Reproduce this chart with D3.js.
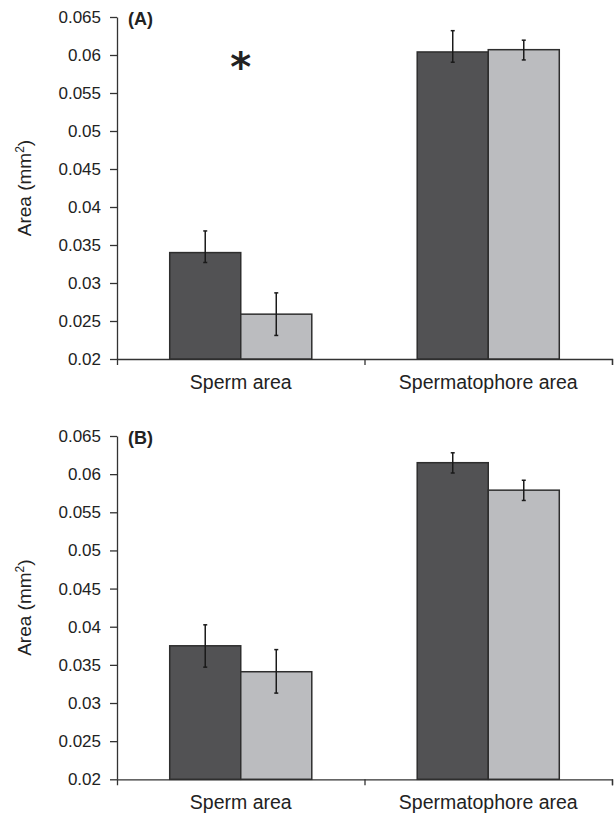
<!DOCTYPE html>
<html>
<head>
<meta charset="utf-8">
<script src="https://cdn.jsdelivr.net/npm/d3@7"></script>
<style>
  body { margin: 0; background: #fff; }
  text { font-family: "Liberation Sans", Arial, sans-serif; fill: #222; }
</style>
</head>
<body>
<div class="chart"></div>
<script>
// categories along the x axis
var categories = ["Sperm area", "Spermatophore area"];

// y axis ticks (same for both panels)
var yTicks = [0.02, 0.025, 0.03, 0.035, 0.04, 0.045, 0.05, 0.055, 0.06, 0.065];

// panel (A) values, dark and light bars
var darkA = [0.0340, 0.0604];
var lightA = [0.0259, 0.0607];
// error bars above / below the bar top
var darkUpA = [0.00285, 0.0028];
var darkDownA = [0.0013, 0.00135];
var lightUpA = [0.0028, 0.00125];
var lightDownA = [0.0028, 0.00135];

// panel (B) values
var darkB = [0.0375, 0.0615];
var lightB = [0.0341, 0.0579];
var darkUpB = [0.00275, 0.0013];
var darkDownB = [0.0028, 0.00135];
var lightUpB = [0.0029, 0.0013];
var lightDownB = [0.0028, 0.00135];

var width = 614,
    height = 813,
    left = 117,
    right = 612;

var svg = d3.select('.chart').append('svg').attr('width', width).attr('height', height);

function panel(top, bottom, tag, dark, light, darkUp, darkDown, lightUp, lightDown, star) {
  var g = svg.append('g');

  var yScale = d3.scaleLinear().domain([0.02, 0.065]).range([bottom, top]);

  // band for each category, the two bars fill the band
  var xScale = d3.scaleBand().domain(categories).range([left, right])
    .paddingInner(0.426).paddingOuter(0.213);
  var sub = d3.scaleBand().domain(['dark', 'light']).range([0, xScale.bandwidth()]);

  // boundary ticks between categories
  var tickScale = d3.scaleLinear().domain([0, categories.length]).range([left, right]);
  var xAxis = d3.axisBottom(tickScale).tickValues([1, 2]).tickSizeOuter(0).tickSize(6).tickFormat('');
  var xG = g.append('g').attr('transform', 'translate(0,' + bottom + ')').call(xAxis);
  xG.select('.domain').attr('stroke', '#333').attr('stroke-width', 1.3);
  xG.selectAll('.tick line').attr('stroke', '#333').attr('stroke-width', 1.3);

  var yAxis = d3.axisLeft(yScale).tickValues(yTicks).tickSize(7).tickSizeOuter(0).tickPadding(9)
    .tickFormat(d3.format('~g'));
  var yG = g.append('g').attr('transform', 'translate(' + left + ',0)').call(yAxis);
  yG.select('.domain').attr('stroke', '#333').attr('stroke-width', 1.3);
  yG.selectAll('.tick line').attr('stroke', '#333').attr('stroke-width', 1.3);
  yG.selectAll('.tick text').style('font-size', '17px').attr('fill', '#222')
    .style('font-family', '"Liberation Sans", Arial, sans-serif');

  // bars
  var rows = [];
  categories.forEach(function (c, i) {
    rows.push({ cat: c, s: 'dark', v: dark[i], up: darkUp[i], down: darkDown[i], fill: '#525254' });
    rows.push({ cat: c, s: 'light', v: light[i], up: lightUp[i], down: lightDown[i], fill: '#bbbcbf' });
  });

  g.selectAll('rect.bar').data(rows).enter().append('rect')
    .attr('class', 'bar')
    .attr('x', function (d) { return xScale(d.cat) + sub(d.s); })
    .attr('y', function (d) { return yScale(d.v); })
    .attr('width', sub.bandwidth())
    .attr('height', function (d) { return bottom - yScale(d.v); })
    .attr('fill', function (d) { return d.fill; })
    .attr('stroke', '#2e2e2e')
    .attr('stroke-width', 1.5);

  // error bars
  var eb = g.selectAll('g.err').data(rows).enter().append('g').attr('class', 'err')
    .attr('transform', function (d) {
      return 'translate(' + (xScale(d.cat) + sub(d.s) + sub.bandwidth() / 2) + ',0)';
    });
  eb.append('line')
    .attr('y1', function (d) { return yScale(d.v + d.up); })
    .attr('y2', function (d) { return yScale(d.v - d.down); });
  eb.append('line').attr('x1', -2).attr('x2', 2)
    .attr('y1', function (d) { return yScale(d.v + d.up); })
    .attr('y2', function (d) { return yScale(d.v + d.up); });
  eb.append('line').attr('x1', -2).attr('x2', 2)
    .attr('y1', function (d) { return yScale(d.v - d.down); })
    .attr('y2', function (d) { return yScale(d.v - d.down); });
  eb.selectAll('line').attr('stroke', '#1a1a1a').attr('stroke-width', 1.5);

  // category labels
  g.selectAll('text.cat').data(categories).enter().append('text')
    .attr('class', 'cat')
    .attr('x', function (d) { return xScale(d) + xScale.bandwidth() / 2; })
    .attr('y', bottom + 30)
    .attr('text-anchor', 'middle')
    .style('font-size', '19.5px')
    .text(function (d) { return d; });

  // y label
  var yl = g.append('text')
    .attr('transform', 'translate(31,' + ((top + bottom) / 2) + ') rotate(-90)')
    .attr('text-anchor', 'middle')
    .style('font-size', '19px');
  yl.append('tspan').text('Area (mm');
  yl.append('tspan').text('2').attr('baseline-shift', 'super').style('font-size', '12px');
  yl.append('tspan').text(')');

  // panel tag
  g.append('text').attr('x', 128).attr('y', top + 8)
    .style('font-size', '18px').style('font-weight', 'bold').text(tag);

  if (star) {
    g.append('text')
      .attr('x', xScale(categories[0]) + xScale.bandwidth() / 2)
      .attr('y', top + 64)
      .attr('text-anchor', 'middle')
      .style('font-size', '40px')
      .style('font-weight', 'bold')
      .style('font-family', '"DejaVu Sans", sans-serif')
      .text('*');
  }
}

panel(17, 359, '(A)', darkA, lightA, darkUpA, darkDownA, lightUpA, lightDownA, true);
panel(436, 779.3, '(B)', darkB, lightB, darkUpB, darkDownB, lightUpB, lightDownB, false);
</script>
</body>
</html>
